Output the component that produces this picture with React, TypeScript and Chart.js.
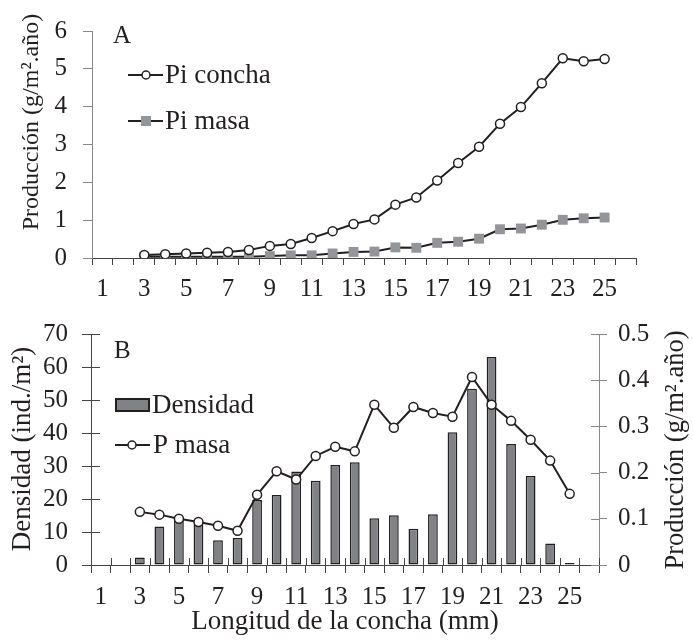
import React, { useEffect, useRef } from 'react';
import { Chart, registerables } from 'chart.js';
Chart.register(...registerables);

// ---- data ----
const sizes = ['1','2','3','4','5','6','7','8','9','10','11','12','13','14','15','16','17','18','19','20','21','22','23','24','25','26'];
const piConcha = [null, null, 0.08, 0.10, 0.12, 0.14, 0.16, 0.21, 0.32, 0.37, 0.53, 0.71, 0.90, 1.02, 1.41, 1.60, 2.05, 2.51, 2.94, 3.55, 3.99, 4.62, 5.28, 5.20, 5.26, null];
const piMasa = [null, null, 0.03, 0.03, 0.03, 0.03, 0.03, 0.03, 0.05, 0.07, 0.07, 0.12, 0.16, 0.17, 0.28, 0.27, 0.40, 0.43, 0.51, 0.76, 0.78, 0.88, 1.01, 1.05, 1.07, null];
const density = [null, null, 2.3, 11.7, 13.6, 12.5, 7.5, 8.2, 19.7, 21.2, 28.3, 25.5, 30.3, 31.1, 14.2, 15.1, 11.0, 15.4, 40.2, 53.4, 63.0, 36.7, 27.0, 6.5, 0.6, null];
const pMasa = [null, null, 0.115, 0.109, 0.100, 0.093, 0.085, 0.074, 0.152, 0.203, 0.185, 0.236, 0.256, 0.246, 0.347, 0.297, 0.342, 0.329, 0.321, 0.407, 0.347, 0.312, 0.271, 0.226, 0.154, null];

const FONT = '"Liberation Serif", "Times New Roman", serif';
const INK = '#231f20';
const BAR = '#808285';
const SQUARE = '#939598';

function txt(ctx: CanvasRenderingContext2D, s: string, x: number, y: number, size: number, align: CanvasTextAlign = 'left', rot = 0) {
  ctx.save();
  ctx.translate(x, y);
  if (rot) ctx.rotate(rot);
  ctx.font = `${size}px ${FONT}`;
  ctx.fillStyle = INK;
  ctx.textAlign = align;
  ctx.textBaseline = 'middle';
  ctx.fillText(s, 0, 0);
  ctx.restore();
}

function circle(ctx: CanvasRenderingContext2D, x: number, y: number, r: number) {
  ctx.beginPath();
  ctx.arc(x, y, r, 0, Math.PI * 2);
  ctx.fillStyle = '#fff';
  ctx.fill();
  ctx.lineWidth = 1.5;
  ctx.strokeStyle = INK;
  ctx.stroke();
}

function hline(ctx: CanvasRenderingContext2D, x1: number, x2: number, y: number) {
  ctx.beginPath();
  ctx.moveTo(x1, y);
  ctx.lineTo(x2, y);
  ctx.lineWidth = 2;
  ctx.strokeStyle = INK;
  ctx.stroke();
}

const topDecor = {
  id: 'topDecor',
  afterDraw(chart: any) {
    const ctx = chart.ctx as CanvasRenderingContext2D;
    ctx.save();
    txt(ctx, 'A', 113, 36, 25);
    hline(ctx, 128, 163, 75);
    circle(ctx, 146, 75, 4);
    txt(ctx, 'Pi concha', 165, 76, 27);
    hline(ctx, 128, 163, 121);
    ctx.fillStyle = SQUARE;
    ctx.fillRect(141, 116, 10, 10);
    txt(ctx, 'Pi masa', 165, 122, 27);
    txt(ctx, 'Producción (g/m².año)', 32, 122, 24, 'center', -Math.PI / 2);
    ctx.restore();
  },
};

const botDecor = {
  id: 'botDecor',
  afterDraw(chart: any) {
    const ctx = chart.ctx as CanvasRenderingContext2D;
    const { chartArea, scales } = chart;
    ctx.save();
    // inner halves of the crossing tick marks
    const xs = scales.x;
    const n = sizes.length;
    const w = (xs.right - xs.left) / n;
    ctx.strokeStyle = '#444';
    ctx.lineWidth = 1;
    for (let i = 0; i <= n; i++) {
      const px = Math.round(xs.left + i * w) + 0.5;
      ctx.beginPath();
      ctx.moveTo(px, chartArea.bottom);
      ctx.lineTo(px, chartArea.bottom - 7);
      ctx.stroke();
    }
    scales.y.ticks.forEach((t: any) => {
      const py = Math.round(scales.y.getPixelForValue(t.value)) + 0.5;
      ctx.strokeStyle = '#444';
      ctx.beginPath();
      ctx.moveTo(chartArea.left, py);
      ctx.lineTo(chartArea.left + 9, py);
      ctx.stroke();
    });
    scales.y1.ticks.forEach((t: any) => {
      const py = Math.round(scales.y1.getPixelForValue(t.value)) + 0.5;
      ctx.strokeStyle = '#888';
      ctx.beginPath();
      ctx.moveTo(chartArea.right, py);
      ctx.lineTo(chartArea.right - 8, py);
      ctx.stroke();
    });
    // legend and labels
    txt(ctx, 'B', 114, 46, 25);
    ctx.fillStyle = BAR;
    ctx.fillRect(116, 94, 33, 12);
    ctx.lineWidth = 2;
    ctx.strokeStyle = INK;
    ctx.strokeRect(116, 94, 33, 12);
    txt(ctx, 'Densidad', 152, 101, 27);
    hline(ctx, 115, 150, 140);
    circle(ctx, 132, 140, 4);
    txt(ctx, 'P masa', 153, 141, 27);
    txt(ctx, 'Densidad (ind./m²)', 23, 144, 27, 'center', -Math.PI / 2);
    txt(ctx, 'Producción (g/m².año)', 676, 145, 26.5, 'center', -Math.PI / 2);
    txt(ctx, 'Longitud de la concha (mm)', 345, 317, 27, 'center');
    ctx.restore();
  },
};

const tickFont = { family: FONT, size: 25 };

function topConfig(): any {
  return {
    type: 'line',
    data: {
      labels: sizes,
      datasets: [
        { label: 'Pi concha', data: piConcha, borderColor: INK, borderWidth: 2, pointRadius: 4.5, pointBackgroundColor: '#fff', pointBorderColor: INK, pointBorderWidth: 1.5, tension: 0 },
        { label: 'Pi masa', data: piMasa, borderColor: INK, borderWidth: 2, pointStyle: 'rect', pointRadius: 7, pointBackgroundColor: SQUARE, pointBorderColor: SQUARE, pointBorderWidth: 0, tension: 0 },
      ],
    },
    options: {
      responsive: false,
      animation: false,
      layout: { padding: { top: 16, right: 57, left: 0, bottom: 0 } },
      plugins: { legend: { display: false }, tooltip: { enabled: false } },
      scales: {
        x: {
          type: 'category',
          offset: true,
          grid: { offset: true, drawOnChartArea: false, tickLength: 7, color: '#444', lineWidth: 1 },
          border: { color: '#444', width: 1 },
          ticks: { autoSkip: false, maxRotation: 0, padding: 9, color: INK, font: tickFont, callback: (_v: any, i: number) => (i % 2 === 0 ? sizes[i] : '') },
          afterFit: (s: any) => { s.height = 47; },
        },
        y: {
          min: 0,
          max: 6,
          grid: { drawOnChartArea: false, tickLength: 9, color: '#888' },
          border: { color: '#888', width: 1 },
          ticks: { stepSize: 1, padding: 16, color: INK, font: tickFont },
          afterFit: (s: any) => { s.width = 92; },
        },
      },
    },
    plugins: [topDecor],
  };
}

function botConfig(): any {
  return {
    type: 'bar',
    data: {
      labels: sizes,
      datasets: [
        { type: 'line', label: 'P masa', data: pMasa, yAxisID: 'y1', order: 0, borderColor: INK, borderWidth: 2, pointRadius: 4.5, pointBackgroundColor: '#fff', pointBorderColor: INK, pointBorderWidth: 1.5, tension: 0 },
        { type: 'bar', label: 'Densidad', data: density, yAxisID: 'y', order: 1, backgroundColor: BAR, borderColor: INK, borderWidth: 1.5, borderSkipped: false, barPercentage: 0.5, categoryPercentage: 1 },
      ],
    },
    options: {
      responsive: false,
      animation: false,
      layout: { padding: { top: 25, right: 0, left: 0, bottom: 0 } },
      plugins: { legend: { display: false }, tooltip: { enabled: false } },
      scales: {
        x: {
          type: 'category',
          offset: true,
          grid: { offset: true, drawOnChartArea: false, tickLength: 8, color: '#444', lineWidth: 1 },
          border: { color: '#444', width: 1 },
          ticks: { autoSkip: false, maxRotation: 0, padding: 9, color: INK, font: tickFont, callback: (_v: any, i: number) => (i % 2 === 0 ? sizes[i] : '') },
          afterFit: (s: any) => { s.height = 78; },
        },
        y: {
          position: 'left',
          min: 0,
          max: 70,
          grid: { drawOnChartArea: false, tickLength: 9, color: '#444' },
          border: { color: '#444', width: 1 },
          ticks: { stepSize: 10, padding: 14, color: INK, font: tickFont },
          afterFit: (s: any) => { s.width = 91; },
        },
        y1: {
          position: 'right',
          min: 0,
          max: 0.5,
          grid: { drawOnChartArea: false, tickLength: 8, color: '#888' },
          border: { color: '#888', width: 1 },
          ticks: { stepSize: 0.1, padding: 11, color: INK, font: tickFont, callback: (v: any) => (Number(v) === 0 ? '0' : Number(v).toFixed(1)) },
          afterFit: (s: any) => { s.width = 94; },
        },
      },
    },
    plugins: [botDecor],
  };
}

export default function App() {
  const topRef = useRef<HTMLCanvasElement>(null);
  const botRef = useRef<HTMLCanvasElement>(null);
  useEffect(() => {
    const c1 = new Chart(topRef.current as HTMLCanvasElement, topConfig());
    const c2 = new Chart(botRef.current as HTMLCanvasElement, botConfig());
    return () => {
      c1.destroy();
      c2.destroy();
    };
  }, []);
  return (
    <div style={{ position: 'absolute', left: 0, top: 0, width: 693, height: 643, background: '#fff' }}>
      <canvas ref={topRef} width={693} height={305} style={{ position: 'absolute', left: 0, top: 0, width: 693, height: 305 }} />
      <canvas ref={botRef} width={693} height={338} style={{ position: 'absolute', left: 0, top: 305, width: 693, height: 338 }} />
    </div>
  );
}
